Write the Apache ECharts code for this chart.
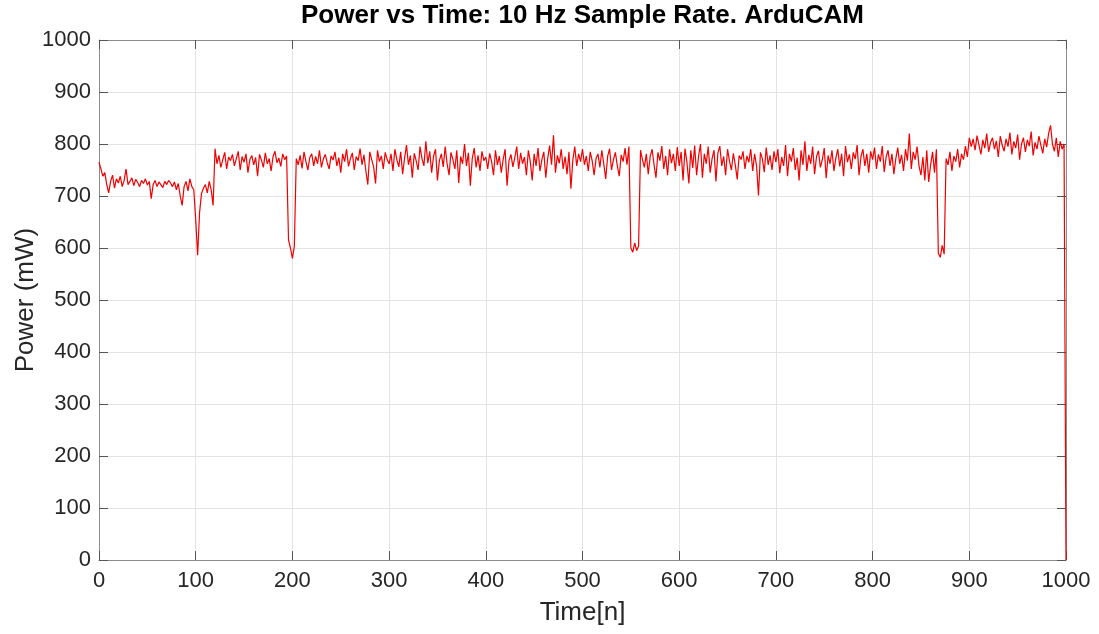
<!DOCTYPE html>
<html>
<head>
<meta charset="utf-8">
<script src="https://cdn.jsdelivr.net/npm/echarts@6/dist/echarts.min.js"></script>
<style>
  html, body { margin: 0; padding: 0; background: #fff; }
  #chart { width: 1099px; height: 634px; }
</style>
</head>
<body>
<div id="chart"></div>
<script>
// samples read every 2nd index, one array per 100 samples
const sampleStep = 2
const power000 = [
  765, 752, 738, 745, 722, 706, 728, 740, 715, 733,
  725, 738, 718, 730, 752, 722, 728, 735, 720, 732,
  726, 718, 730, 724, 733, 721, 728, 695, 722, 730,
  718, 727, 724, 716, 728, 722, 730, 725, 718, 727,
  712, 724, 700, 682, 718, 728, 710, 733, 718, 712
]
const power100 = [
  655, 586, 668, 705, 715, 722, 706, 728, 712, 682,
  791, 762, 778, 755, 770, 784, 752, 775, 768, 780,
  758, 772, 786, 750, 776, 765, 781, 745, 770, 778,
  760, 774, 738, 780, 769, 755, 783, 762, 772, 748,
  776, 786, 764, 773, 757, 781, 770, 777, 615, 600
]
const power200 = [
  580, 603, 772, 760, 778, 753, 785, 766, 750, 774,
  781, 758, 776, 762, 788, 755, 771, 780, 764, 752,
  777, 769, 785, 758, 774, 745, 781, 766, 790, 757,
  772, 783, 750, 776, 768, 791, 760, 779, 748, 722,
  785, 770, 756, 724, 788, 766, 777, 752, 784, 770
]
const power300 = [
  762, 781, 748, 790, 770, 756, 785, 742, 773, 798,
  760, 778, 735, 782, 768, 750, 795, 772, 758, 805,
  763, 786, 745, 777, 790, 730, 768, 781, 756, 795,
  762, 740, 784, 770, 752, 788, 725, 776, 762, 800,
  758, 783, 720, 772, 792, 755, 778, 748, 786, 768
]
const power400 = [
  775, 752, 782, 766, 740, 788, 760, 777, 745, 771,
  790, 720, 768, 780, 756, 774, 795, 752, 783, 762,
  775, 740, 788, 766, 730, 781, 758, 792, 748, 770,
  785, 735, 772, 797, 760, 817, 745, 778, 763, 790,
  752, 776, 742, 785, 714, 770, 795, 758, 781, 766
]
const power500 = [
  790, 760, 777, 748, 785, 768, 740, 772, 781, 755,
  788, 762, 733, 776, 791, 750, 770, 784, 758, 738,
  779, 766, 792, 760, 795, 600, 592, 610, 595, 604,
  788, 770, 755, 781, 742, 776, 790, 760, 735, 784,
  768, 796, 752, 777, 740, 790, 763, 781, 748, 794
]
const power600 = [
  758, 785, 730, 791, 765, 724, 788, 754, 797, 740,
  776, 800, 735, 781, 762, 795, 745, 772, 788, 728,
  783, 796, 758, 776, 740, 790, 767, 750, 782, 760,
  732, 778, 770, 786, 752, 777, 765, 790, 748, 781,
  758, 701, 784, 772, 746, 793, 760, 778, 750, 786
]
const power700 = [
  765, 790, 744, 775, 758, 798, 738, 781, 766, 792,
  750, 774, 730, 788, 760, 805, 748, 779, 762, 795,
  742, 776, 787, 755, 770, 792, 734, 778, 762, 788,
  748, 773, 790, 757, 781, 738, 796, 765, 780, 752,
  784, 771, 798, 740, 776, 790, 758, 781, 745, 786
]
const power800 = [
  770, 793, 752, 780, 766, 796, 746, 775, 788, 758,
  781, 742, 772, 793, 762, 779, 748, 790, 768, 820,
  752, 785, 770, 795, 758, 740, 775, 730, 788, 727,
  760, 785, 745, 790, 590, 582, 605, 588, 772, 760,
  785, 748, 777, 766, 790, 755, 781, 770, 796, 775
]
const power900 = [
  812, 795, 810, 788, 816, 798, 780, 808, 792, 820,
  785, 803, 812, 790, 806, 775, 815, 798, 786, 810,
  795, 822, 780, 805, 792, 818, 770, 800, 812, 785,
  808, 796, 824, 778, 803, 790, 815, 798, 782, 810,
  794, 820, 836, 800, 786, 812, 775, 805, 790, 800,
  0
]
const axisTicks = [0, 100, 200, 300, 400, 500, 600, 700, 800, 900, 1000]

const power = [].concat(power000, power100, power200, power300, power400,
  power500, power600, power700, power800, power900)
const seriesData = power.map((v, i) => [i * sampleStep, v])

const tickColor = '#262626'
const frameColor = '#8c8c8c'
const fontFamily = 'Liberation Sans, Arial, sans-serif'

const frameAxis = (extra) => Object.assign({
  type: 'value',
  min: axisTicks[0],
  max: axisTicks[axisTicks.length - 1],
  interval: 100,
  axisLine: { show: true, onZero: false, lineStyle: { color: frameColor, width: 1 } },
  axisTick: { show: true, inside: true, length: 9, lineStyle: { color: '#555' } },
  splitLine: { show: false },
  axisLabel: { show: false }
}, extra)

const chart = echarts.init(document.getElementById('chart'))
chart.setOption({
  backgroundColor: '#fff',
  animation: false,
  title: {
    text: 'Power vs Time: 10 Hz Sample Rate. ArduCAM',
    left: 296,
    top: -2,
    textStyle: { fontFamily, fontSize: 26, fontWeight: 'bold', color: '#000' }
  },
  grid: { left: 99, right: 33, top: 40, bottom: 74, outerBoundsMode: 'none', containLabel: false },
  xAxis: [
    frameAxis({
      position: 'bottom',
      name: 'Time[n]',
      nameLocation: 'middle',
      nameGap: 40,
      nameTextStyle: { fontFamily, fontSize: 26, color: tickColor },
      splitLine: { show: true, lineStyle: { color: '#e3e3e3' } },
      axisLabel: { show: true, fontFamily, fontSize: 22, color: tickColor, margin: 10, formatter: (v) => String(v) }
    }),
    frameAxis({ position: 'top' })
  ],
  yAxis: [
    frameAxis({
      position: 'left',
      name: 'Power (mW)',
      nameLocation: 'middle',
      nameGap: 60,
      nameMoveOverlap: false,
      nameTextStyle: { fontFamily, fontSize: 26, color: tickColor },
      splitLine: { show: true, lineStyle: { color: '#e3e3e3' } },
      axisLabel: { show: true, fontFamily, fontSize: 22, color: tickColor, margin: 8, formatter: (v) => String(v) }
    }),
    frameAxis({ position: 'right' })
  ],
  series: [
    {
      type: 'line',
      data: seriesData,
      showSymbol: false,
      lineStyle: { color: '#f00000', width: 1.2 },
      itemStyle: { color: '#f00000' }
    }
  ]
})
</script>
</body>
</html>
